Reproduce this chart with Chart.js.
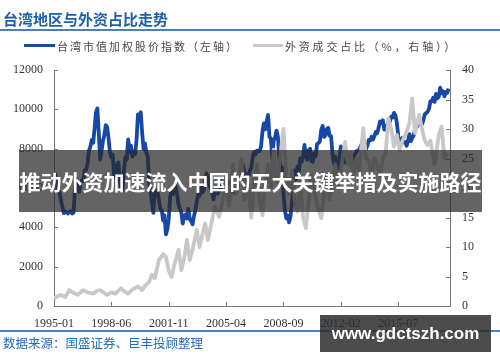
<!DOCTYPE html>
<html><head><meta charset="utf-8">
<script src="https://cdn.jsdelivr.net/npm/chart.js@4"></script>
<style>
html,body{margin:0;padding:0;background:#fff;}
#wrap{position:relative;width:500px;height:362px;overflow:hidden;font-family:"Noto Sans CJK SC",sans-serif;background:#fff;}
canvas{position:absolute;left:0;top:0;}
.abs{position:absolute;white-space:nowrap;}
</style></head><body>
<div id="wrap">
<canvas id="c" width="500" height="362"></canvas>
<div class="abs" style="left:3px;top:9px;font-size:15px;line-height:20px;font-weight:bold;color:#1b5fab;">台湾地区与外资占比走势</div>
<div class="abs" style="left:0;top:29px;width:500px;height:2px;background:#4b7fc4;"></div>
<div class="abs" style="left:24px;top:44px;width:31px;height:3px;background:#1848a6;"></div>
<div class="abs" id="lg1" style="left:57px;top:37px;font-size:11px;line-height:18px;letter-spacing:2px;color:#4a4a4a;"></div>
<div class="abs" style="left:253px;top:44px;width:30px;height:3px;background:#c8c8c8;"></div>
<div class="abs" id="lg2" style="left:285px;top:37px;font-size:11px;line-height:18px;letter-spacing:2.8px;color:#4a4a4a;"></div>
<div class="abs" style="left:0;top:330px;width:500px;height:2px;background:#4b7fc4;"></div>
<div class="abs" style="left:3px;top:334px;font-size:12.5px;line-height:18px;color:#1f6bb8;">数据来源：国盛证券、巨丰投顾整理</div>
<div class="abs" style="left:19px;top:150px;width:463px;height:62px;background:rgba(40,40,40,0.72);"></div>
<div class="abs" style="left:19px;top:150px;width:463px;height:62px;line-height:62px;text-align:center;font-size:21px;font-weight:bold;color:#fff;">推动外资加速流入中国的五大关键举措及实施路径</div>
<div class="abs" style="left:320px;top:315px;width:171px;height:37px;background:rgba(45,45,45,0.85);"></div>
<div class="abs" style="left:320px;top:315px;width:171px;height:37px;line-height:37px;text-align:center;font-family:'Liberation Sans',sans-serif;font-size:17px;font-weight:bold;color:#fff;">www.gdctszh.com</div>
</div>
<script>
const seriesNames = ["台湾市值加权股价指数（左轴）", "外资成交占比（%，右轴））"];
const startMonth = "1995-01";
const taiex = [
6450,6700,6150,5850,5780,5350,5050,4720,4800,4760,4700,4780,
4820,4700,4750,6040,6450,6200,5800,6250,6400,6380,6900,6930,
7250,7900,8100,8450,8300,9030,9850,10050,8800,7450,7900,8400,
8700,9200,9100,8500,7800,7550,7700,6550,6800,7160,7300,6420,
6000,5900,6880,7580,7450,8470,7830,8150,7600,7850,7720,8450,
9740,9440,9850,8820,7980,8270,7790,7620,6190,5810,5260,4740,
5940,5670,5800,5380,4940,4880,4350,4610,3640,3900,4440,5550,
5870,5680,6170,6070,5680,5150,4940,4760,4190,4580,4650,4450,
4940,4430,4320,4150,4560,4870,5320,5650,5610,6050,5770,5890,
6380,6750,6520,6120,5980,5840,5420,5770,5850,5710,5850,6140,
5990,6210,6010,5820,6010,6240,6310,6030,6120,5760,6200,6550,
6530,6560,6610,7170,6850,6700,6450,6610,6880,7020,7570,7820,
7700,7900,7880,7880,8140,8880,9290,8980,9410,9710,8590,8510,
7520,8410,8570,8920,8620,7520,7020,7050,5720,4870,4460,4590,
4250,4560,5210,5990,6890,6430,7080,6830,7510,7340,7580,8190,
7640,7440,7920,8000,7370,7330,7760,7620,8240,8290,8370,8970,
9150,8600,8680,9010,9050,8650,8640,7740,7230,7590,6900,7070,
7520,8120,7930,7500,7300,7300,7270,7400,7720,7170,7580,7700,
7850,7910,7920,8090,8250,8060,8110,7980,8170,8450,8410,8610,
8460,8640,8850,8790,9080,9390,9320,9440,8970,8970,9190,9310,
9360,9620,9590,9820,9700,9320,8670,8170,8180,8550,8320,8340,
8150,8410,8740,8380,8540,8670,8980,9070,9170,9290,9240,9250,
9450,9750,9810,9870,10040,10400,10430,10590,10380,10790,10560,10640,
11100,10820,10920,10660,10880,10840,11060
];
// months counted from 1995-01
const foreignMonthIdx = [0,2,5,8,11,14,17,21,24,28,31,33,36,38,41,44,46,48,50,53,56,60,63,65,68,70,72,75,78,80,82,84,86,89,91,93,95,97,99,102,104,106,108,110,112,115,118,121,123,125,128,130,132,134,136,138,141,143,145,147,149,151,153,155,157,159,161,164,166,168,170,172,174,176,178,180,182,184,186,188,191,193,195,197,199,201,203,205,208,210,212,214,216,218,221,223,225,227,229,231,233,235,237,239,241,243,245,247,249,252,254,256,258,261,263,265,267,269,272,275,277,279,281];
const foreignShare = [1.3,1.6,1.9,1.5,2.7,2.2,1.9,2.7,2.3,2.1,2.6,2.7,2.2,1.9,2.3,2.1,2.6,3.0,2.5,2.1,2.8,3.3,2.7,3.4,4.1,5.3,4.7,7.8,8.8,8.3,6.0,4.9,7.0,9.5,6.1,8.0,11.2,7.8,9.5,12.9,10.0,12.0,14.0,11.2,13.5,16.8,15.1,18.5,22,17,24,19,21,25,18,22,15,21,24,18,15.4,21,24,20,26.5,21,24,30,22,19,23,18,16,21,15,13.2,18,22,20,17,14.9,19,22,18,21,24,20,23,27.8,24,26,22,25,23,30.1,25,24.7,22,25,24,22,25,26,31.8,30,27,29,26.4,28,29.5,31,35.2,29.3,32.4,30,28,27.3,28,24,29,30.4,25,26];
const xTickLabels = ["1995-01","1998-06","2001-11","2005-04","2008-09","2012-02","2015-07"];
const xEndLabel = "2018-08";
const leftTicks = [0,2000,4000,6000,8000,10000,12000];
const rightTicks = [0,5,10,15,20,25,30,35,40];

document.getElementById('lg1').textContent = seriesNames[0];
document.getElementById('lg2').textContent = seriesNames[1];

function monthIndex(s){const p=s.split('-').map(Number);return (p[0]-1995)*12+(p[1]-1);}
const base = monthIndex(startMonth);
const taiexPts = taiex.map((v,i)=>({x:base+i,y:v}));
const foreignPts = foreignShare.map((v,i)=>({x:foreignMonthIdx[i],y:v}));
const labelByIdx = {};
xTickLabels.forEach(l=>labelByIdx[monthIndex(l)]=l);

const inwardTicks = {
  id:'inwardTicks',
  afterDraw(chart){
    const {ctx, chartArea:a, scales} = chart;
    ctx.save();
    ctx.strokeStyle='#777'; ctx.lineWidth=1;
    ctx.beginPath();
    scales.y.ticks.forEach(t=>{const p=Math.round(scales.y.getPixelForValue(t.value))+0.5;ctx.moveTo(a.left,p);ctx.lineTo(a.left+4,p);});
    scales.y1.ticks.forEach(t=>{const p=Math.round(scales.y1.getPixelForValue(t.value))+0.5;ctx.moveTo(a.right-4,p);ctx.lineTo(a.right,p);});
    scales.x.ticks.forEach(t=>{const p=Math.round(scales.x.getPixelForValue(t.value))+0.5;ctx.moveTo(p,a.bottom);ctx.lineTo(p,a.bottom-4);});
    ctx.stroke();
    ctx.restore();
  }
};

const tickFont = {family:"'Liberation Serif', serif", size:12};
new Chart(document.getElementById('c'), {
  type:'line',
  data:{datasets:[
    {label:seriesNames[1], data:foreignPts, yAxisID:'y1', borderColor:'#c8c8c8', borderWidth:3.8, pointRadius:0, tension:0, borderJoinStyle:'round', order:0},
    {label:seriesNames[0], data:taiexPts, yAxisID:'y', borderColor:'#1848a6', borderWidth:3.8, pointRadius:0, tension:0, borderJoinStyle:'round', order:1}
  ]},
  plugins:[inwardTicks],
  options:{
    responsive:false, animation:false, events:[],
    layout:{padding:{left:0,right:0,top:70,bottom:26}},
    plugins:{legend:{display:false}, tooltip:{enabled:false}},
    scales:{
      x:{type:'linear', min:0, max:monthIndex(xEndLabel),
        afterBuildTicks:s=>{s.ticks = xTickLabels.map(l=>({value:monthIndex(l)}));},
        afterFit:s=>{s.height=30;},
        grid:{display:false, drawTicks:false},
        border:{display:true,color:'#777',width:1},
        ticks:{autoSkip:false,maxRotation:0,padding:11,color:'#333',font:tickFont,callback:v=>labelByIdx[v]||''}
      },
      y:{position:'left', min:0, max:12000,
        afterBuildTicks:s=>{s.ticks = leftTicks.map(v=>({value:v}));},
        afterFit:s=>{s.width=54;},
        grid:{display:false, drawTicks:false},
        border:{display:true,color:'#777',width:1},
        ticks:{padding:11,color:'#333',font:tickFont,callback:v=>String(v)}
      },
      y1:{position:'right', min:0, max:40,
        afterBuildTicks:s=>{s.ticks = rightTicks.map(v=>({value:v}));},
        afterFit:s=>{s.width=50;},
        grid:{display:false, drawTicks:false},
        border:{display:true,color:'#777',width:1},
        ticks:{padding:12,color:'#333',font:tickFont,callback:v=>String(v)}
      }
    }
  }
});
</script>
</body></html>
